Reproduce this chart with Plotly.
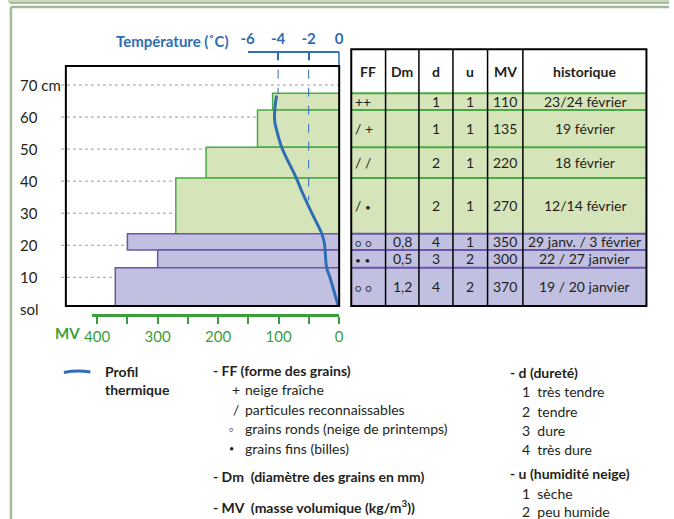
import plotly.graph_objects as go

# ---------------- data ----------------
LAYER_TOP = [67.4, 62.2, 50.6, 41.0, 23.6, 18.5, 13.0]
LAYER_BOTTOM = [62.2, 50.6, 41.0, 23.6, 18.5, 13.0, 0.0]
LAYER_GROUP = ["recent", "recent", "recent", "recent", "old", "old", "old"]
MV = [110, 135, 220, 270, 350, 300, 370]
FF = ["++", "/ +", "/ /", "/ •", "○ ○", "• •", "○ ○"]
DM = ["", "", "", "", "0,8", "0,5", "1,2"]
D = [1, 1, 2, 2, 4, 3, 4]
U = [1, 1, 1, 1, 1, 2, 2]
HISTORIQUE = ["23/24 février", "19 février", "18 février", "12/14 février",
              "29 janv. / 3 février", "22 / 27 janvier", "19 / 20 janvier"]
TABLE_HEADERS = ["FF", "Dm", "d", "u", "MV", "historique"]

TEMP_HEIGHT = [66.7, 62.2, 58.6, 56.0, 50.6, 41.1, 37.4, 34.2, 30.0, 23.6, 20.6, 13.0, 10.0, 0.0]
TEMP_VALUE = [-4.1, -4.22, -4.22, -4.1, -3.77, -2.82, -2.5, -2.2, -1.79, -1.14, -0.97, -0.82, -0.61, 0.0]

HEIGHT_TICKS = [0, 10, 20, 30, 40, 50, 60, 70]
HEIGHT_LABELS = ["sol", "10", "20", "30", "40", "50", "60", "70 cm"]
MV_TICKS = [0, 100, 200, 300, 400]
MV_LABELS = ["0", "100", "200", "300", "400"]
MV_MINOR_STEP = 50
TEMP_TICKS = [-6, -4, -2, 0]
TEMP_LABELS = ["-6", "-4", "-2", "0"]
TEMP_GUIDES = [-4, -2]
TEMP_GUIDE_END = [67.4, 34.0]

# ---------------- style ----------------
W, H = 674, 519
FONT = "Lato"
TXT = "#231f20"
BLUE = "#2f6db5"
GREEN = "#3a9f3a"
FILL = {"recent": "#d5e5b9", "old": "#c1c0e0"}
EDGE = {"recent": "#4aaa45", "old": "#6a55a8"}
Y_RANGE = [1.05, 75.93]


def px(x):
    return x / W


def py(y):
    return 1 - y / H


Y_DOM = [py(306), py(66)]


def y_to_paper(v):
    return Y_DOM[0] + (v - Y_RANGE[0]) / (Y_RANGE[1] - Y_RANGE[0]) * (Y_DOM[1] - Y_DOM[0])


fig = go.Figure()

centers = [(t + b) / 2 for t, b in zip(LAYER_TOP, LAYER_BOTTOM)]
thick = [t - b for t, b in zip(LAYER_TOP, LAYER_BOTTOM)]
fig.add_trace(go.Bar(
    orientation="h", x=MV, y=centers, width=thick, base=0,
    marker=dict(color=[FILL[g] for g in LAYER_GROUP],
                line=dict(color=[EDGE[g] for g in LAYER_GROUP], width=1.5)),
    xaxis="x", yaxis="y", showlegend=False, hoverinfo="skip"))

fig.add_trace(go.Scatter(
    x=TEMP_VALUE, y=TEMP_HEIGHT, mode="lines", xaxis="x3", yaxis="y",
    line=dict(color=BLUE, width=3, shape="spline", smoothing=1.0),
    showlegend=False, hoverinfo="skip"))

fig.add_trace(go.Scatter(x=[], y=[], xaxis="x4", yaxis="y", showlegend=False))

shapes = []
# page decorations
shapes.append(dict(type="rect", xref="paper", yref="paper", x0=0, x1=1, y0=py(3), y1=1,
                   fillcolor="#cbd9bf", line=dict(width=0), layer="below"))
shapes.append(dict(type="line", xref="paper", yref="paper", x0=px(2), x1=1, y0=py(3), y1=py(3),
                   line=dict(color="#93aa84", width=1.5)))
shapes.append(dict(type="line", xref="paper", yref="paper", x0=px(3), x1=px(3), y0=0, y1=py(7),
                   line=dict(color="#a3b897", width=2.5)))
shapes.append(dict(type="line", xref="paper", yref="paper", x0=px(3), x1=1, y0=py(7), y1=py(7),
                   line=dict(color="#a3b897", width=2.5)))

# dotted grid lines
for v in HEIGHT_TICKS[1:]:
    shapes.append(dict(type="line", xref="paper", yref="y", x0=px(54), x1=px(337.7), y0=v, y1=v,
                       line=dict(color="#9a9a9a", width=1, dash="dot"), layer="below"))

# temperature guides
for t, e in zip(TEMP_GUIDES, TEMP_GUIDE_END):
    shapes.append(dict(type="line", xref="x3", yref="paper", x0=t, x1=t, y0=py(51.7), y1=y_to_paper(e),
                       line=dict(color=BLUE, width=1, dash="dash")))
shapes.append(dict(type="line", xref="paper", yref="paper", x0=px(337.5), x1=px(337.5), y0=py(51.7), y1=py(66),
                   line=dict(color=BLUE, width=1.5)))

# plot frame
shapes.append(dict(type="rect", xref="paper", yref="paper", x0=px(59), x1=px(337.7), y0=Y_DOM[0], y1=Y_DOM[1],
                   line=dict(color="black", width=2)))

# ---- table ----
COLX = [350, 385, 419, 453.7, 489, 525, 651]
T_TOP = py(49.3)
for i in range(len(MV)):
    g = LAYER_GROUP[i]
    shapes.append(dict(type="rect", xref="paper", yref="y", x0=px(COLX[0]), x1=px(COLX[-1]),
                       y0=max(LAYER_BOTTOM[i], Y_RANGE[0]), y1=LAYER_TOP[i],
                       fillcolor=FILL[g], line=dict(width=0)))
for i in range(len(MV)):
    g = LAYER_GROUP[i]
    shapes.append(dict(type="line", xref="paper", yref="y", x0=px(COLX[0]), x1=px(COLX[-1]),
                       y0=LAYER_TOP[i], y1=LAYER_TOP[i], line=dict(color=EDGE[g], width=2)))
for cx in COLX[1:-1]:
    shapes.append(dict(type="line", xref="paper", yref="paper", x0=px(cx), x1=px(cx),
                       y0=Y_DOM[0], y1=T_TOP, line=dict(color="black", width=1.5)))
shapes.append(dict(type="rect", xref="paper", yref="paper", x0=px(COLX[0]), x1=px(COLX[-1]),
                   y0=Y_DOM[0], y1=T_TOP, line=dict(color="black", width=2)))

# legend line
shapes.append(dict(type="path", xref="paper", yref="paper",
                   path=f"M {px(57)},{py(372.5)} Q {px(70)},{py(370)} {px(84)},{py(372)}",
                   line=dict(color=BLUE, width=3)))

ann = []
# height labels
for v, lab in zip(HEIGHT_TICKS, HEIGHT_LABELS):
    ann.append(dict(x=px(10), y=y_to_paper(v), xref="paper", yref="paper", text=lab, showarrow=False,
                    xanchor="left", yanchor="middle", font=dict(size=15, color=TXT)))
# MV axis name
ann.append(dict(x=px(46), y=py(333), xref="paper", yref="paper", text="<b>MV</b>", showarrow=False,
                xanchor="left", yanchor="middle", font=dict(size=15, color=GREEN)))
# temperature title
ann.append(dict(x=px(227), y=py(40.5), xref="paper", yref="paper", text="<b>Température (˚C)</b>",
                showarrow=False, xanchor="right", yanchor="middle", font=dict(size=15, color=BLUE)))

# table header
for j, h in enumerate(TABLE_HEADERS):
    ann.append(dict(x=px((COLX[j] + COLX[j + 1]) / 2), y=py(71.5), xref="paper", yref="paper",
                    text=f"<b>{h}</b>", showarrow=False, xanchor="center", yanchor="middle",
                    font=dict(size=14, color=TXT)))


def ff_markup(s):
    out = []
    for ch in s:
        if ch == "○":
            out.append("<span style='font-size:10px'>○</span>")
        elif ch == "•":
            out.append("<span style='font-size:10px'>•</span>")
        elif ch == " ":
            out.append("&nbsp;")
        else:
            out.append(ch)
    return "".join(out)


# table rows
for i in range(len(MV)):
    yc = y_to_paper((max(LAYER_BOTTOM[i], Y_RANGE[0]) + LAYER_TOP[i]) / 2)
    ann.append(dict(x=px(352), y=yc, xref="paper", yref="paper", text=ff_markup(FF[i]), showarrow=False,
                    xanchor="left", yanchor="middle", font=dict(size=14, color=TXT)))
    vals = [DM[i], str(D[i]), str(U[i]), str(MV[i]), HISTORIQUE[i]]
    for j, v in enumerate(vals, start=1):
        if not v:
            continue
        ann.append(dict(x=px((COLX[j] + COLX[j + 1]) / 2), y=yc, xref="paper", yref="paper", text=v,
                        showarrow=False, xanchor="center", yanchor="middle",
                        font=dict(size=14, color=TXT)))


# legend texts
def txt(x, y, s, bold=False, size=14):
    ann.append(dict(x=px(x), y=py(y), xref="paper", yref="paper",
                    text=f"<b>{s}</b>" if bold else s, showarrow=False,
                    xanchor="left", yanchor="middle", font=dict(size=size, color=TXT)))


txt(97, 371, "Profil", True)
txt(97, 389.5, "thermique", True)
txt(207, 370, "- FF (forme des grains)", True)
FF_SYM = ["+", "/", "○", "•"]
FF_TXT = ["neige fraîche", "particules reconnaissables", "grains ronds (neige de printemps)", "grains fins (billes)"]
FF_Y = [389.5, 409, 428.5, 448]
FF_SX = [226, 227, 223, 223]
FF_SS = [14, 14, 7, 9]
for s, t, y, sx, ss in zip(FF_SYM, FF_TXT, FF_Y, FF_SX, FF_SS):
    txt(sx, y, s, size=ss)
    txt(240, y, t)
txt(207, 476.5, "- Dm&nbsp;&nbsp;(diamètre des grains en mm)", True)
txt(207, 506.5, "- MV&nbsp;&nbsp;(masse volumique (kg/m<sup>3</sup>))", True)

txt(510, 372, "- d (dureté)", True)
D_TXT = ["1&nbsp;&nbsp;très tendre", "2&nbsp;&nbsp;tendre", "3&nbsp;&nbsp;dure", "4&nbsp;&nbsp;très dure"]
for t, y in zip(D_TXT, [391.5, 411, 430.5, 449.5]):
    txt(522, y, t)
txt(510, 473.5, "- u (humidité neige)", True)
U_TXT = ["1&nbsp;&nbsp;sèche", "2&nbsp;&nbsp;peu humide"]
for t, y in zip(U_TXT, [493.5, 511]):
    txt(522, y, t)

fig.update_layout(
    width=W, height=H, margin=dict(l=0, r=0, t=0, b=0),
    paper_bgcolor="white", plot_bgcolor="rgba(0,0,0,0)",
    font=dict(family=FONT, color=TXT),
    showlegend=False, barmode="overlay",
    xaxis=dict(domain=[px(59), px(337.7)], range=[451.7, 0], visible=False, anchor="y"),
    yaxis=dict(domain=Y_DOM, range=Y_RANGE, visible=False, anchor="x"),
    xaxis3=dict(domain=[px(244.3), px(337.7)], range=[-6, 0], anchor="free", position=py(51.7),
                side="top", showline=True, linecolor=BLUE, linewidth=2, ticks="inside", ticklen=7,
                tickwidth=1.5, tickcolor=BLUE, tickvals=TEMP_TICKS, ticktext=TEMP_LABELS,
                tickfont=dict(size=15, color=BLUE, weight="bold"), showgrid=False, zeroline=False,
                ticklabelstandoff=1),
    xaxis4=dict(domain=[px(86), px(337.7)], range=[407.9, 0], anchor="free", position=py(315),
                side="bottom", showline=True, linecolor=GREEN, linewidth=2.5, ticks="outside",
                ticklen=7, tickwidth=1.5, tickcolor=GREEN, tickvals=MV_TICKS, ticktext=MV_LABELS,
                tickfont=dict(size=15, color=GREEN), showgrid=False, zeroline=False,
                minor=dict(tickmode="linear", tick0=0, dtick=MV_MINOR_STEP, ticks="outside",
                           ticklen=7, tickwidth=1.5, tickcolor=GREEN, showgrid=False)),
    shapes=shapes, annotations=ann,
)

fig.write_html("out.html", config={"displayModeBar": False},
               post_script="document.body.style.margin='0px';")
